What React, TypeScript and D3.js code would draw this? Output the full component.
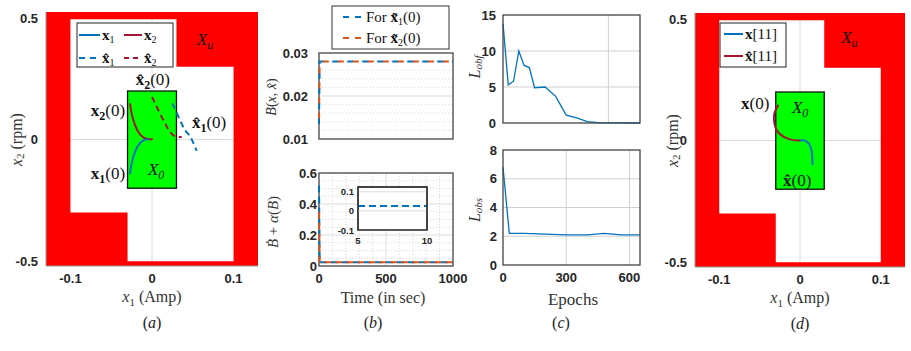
import React from "react";
import * as d3 from "d3";

const blue = "#0072BD";
const orange = "#D95319";
const wine = "#A2142F";
const serif = "'Liberation Serif', 'DejaVu Serif', serif";
const sans = "'Liberation Sans', Arial, sans-serif";
const tickCol = "#262626";

// ---------- (a) and (d): state space ----------
const stateDomainX = [-0.13, 0.13];
const stateDomainY = [-0.52, 0.525];
const stateTicksX = [-0.1, 0, 0.1];
const stateTicksY = [-0.5, 0, 0.5];
// boundary of the safe (white) region; the rest of the box is X_u
const safeSetX = [-0.1, 0.03, 0.03, 0.1, 0.1, -0.03, -0.03, -0.1];
const safeSetY = [0.495, 0.495, 0.3, 0.3, -0.5, -0.5, -0.3, -0.3];
// initial set X_0
const initSetX = [-0.03, 0.03];
const initSetY = [-0.2, 0.2];

// (a) trajectories
const x1X = [-0.027, -0.025, -0.0208, -0.0155, -0.0098, -0.0045];
const x1Y = [-0.142, -0.098, -0.05, -0.018, -0.002, 0.002];
const x2X = [-0.027, -0.025, -0.0208, -0.0155, -0.0106, -0.0045, 0.001];
const x2Y = [0.149, 0.108, 0.06, 0.025, 0.009, 0.002, 0.002];
const xh1X = [0.025, 0.0344, 0.0405, 0.0466, 0.0487, 0.0548];
const xh1Y = [0.149, 0.08, 0.039, 0.014, 0.001, -0.046];
const xh2X = [0.0, 0.0078, 0.016, 0.022, 0.028, 0.0364];
const xh2Y = [0.176, 0.121, 0.067, 0.032, 0.014, 0.011];

// (d) trajectories
const x11X = [0, 0.0061, 0.0114, 0.0143, 0.0155];
const x11Y = [0, 0, -0.014, -0.041, -0.1];
const xh11X = [-0.0266, -0.0319, -0.0319, -0.0286, -0.0205, -0.0102, 0];
const xh11Y = [0.148, 0.11, 0.075, 0.041, 0.016, 0.003, 0];

// ---------- (b): barrier values over time ----------
const timeTicks = [0, 500, 1000];
const barrierTicks = [0.01, 0.02, 0.03];
const condTicks = [0, 0.2, 0.4, 0.6];
const timeB = [0, 5, 1000];
const barrier1 = [0.0135, 0.028, 0.028];
const barrier2 = [0.0135, 0.028, 0.028];
const cond1 = [0.52, 0.025, 0.025];
const cond2 = [0.35, 0.025, 0.025];
const insetTime = [5, 10];
const insetCond = [0.025, 0.025];
const insetTicksX = [5, 10];
const insetTicksY = [-0.1, 0, 0.1];

// ---------- (c): training losses ----------
const epochTicks = [0, 300, 600];
const epochsObf = [0, 25, 50, 75, 100, 125, 150, 200, 250, 300, 350, 400, 450, 650];
const lossObf = [13.8, 5.3, 5.8, 10, 8, 7.7, 4.9, 5, 3.7, 1.1, 0.7, 0.2, 0.05, 0];
const obfTicks = [0, 5, 10, 15];
const epochsObs = [0, 30, 100, 200, 300, 400, 480, 560, 650];
const lossObs = [6.8, 2.2, 2.2, 2.15, 2.1, 2.1, 2.2, 2.1, 2.1];
const obsTicks = [0, 2, 4, 6, 8];

type Scale = d3.ScaleLinear<number, number>;

function Path({ x, y, X, Y, color, width = 2, dash, offset, curve = d3.curveCatmullRom }: any) {
  const gen = d3
    .line<number>()
    .x((_, i) => x(X[i]))
    .y((_, i) => y(Y[i]))
    .curve(curve);
  return (
    <path
      d={gen(X) ?? ""}
      fill="none"
      stroke={color}
      strokeWidth={width}
      strokeDasharray={dash}
      strokeDashoffset={offset}
    />
  );
}

function TickLabel({ x, y, anchor = "middle", size = 13, children }: any) {
  return (
    <text x={x} y={y} textAnchor={anchor} fontFamily={sans} fontWeight={700} fontSize={size} fill={tickCol}>
      {children}
    </text>
  );
}

function fmt(v: number) {
  return String(v);
}

function YLabel({ cx, cy, size = 16, children }: any) {
  return (
    <text
      transform={`translate(${cx},${cy}) rotate(-90)`}
      textAnchor="middle"
      dominantBaseline="central"
      fontFamily={serif}
      fontSize={size}
      fill="#333"
    >
      {children}
    </text>
  );
}

function StateFrame({ left, right, top, bottom, yLabelX, tag, children }: any) {
  const x = d3.scaleLinear().domain(stateDomainX).range([left, right]);
  const y = d3.scaleLinear().domain(stateDomainY).range([bottom, top]);
  const hole = safeSetX.map((v, i) => `${x(v)},${y(safeSetY[i])}`).join("L");
  const red = `M${left},${top}H${right}V${bottom}H${left}Z M${hole}Z`;
  return (
    <g>
      <rect x={left} y={top} width={right - left} height={bottom - top} fill="#fff" />
      <line x1={x(0)} x2={x(0)} y1={top} y2={bottom} stroke="#dcdcdc" />
      <line x1={left} x2={right} y1={y(0)} y2={y(0)} stroke="#dcdcdc" />
      <path d={red} fill="#ff0000" fillRule="evenodd" />
      <rect
        x={x(initSetX[0])}
        y={y(initSetY[1])}
        width={x(initSetX[1]) - x(initSetX[0])}
        height={y(initSetY[0]) - y(initSetY[1])}
        fill="#00ff00"
        stroke="#111"
        strokeWidth={1.3}
      />
      <line x1={left} x2={left} y1={top} y2={bottom} stroke="#999" />
      <line x1={left} x2={right} y1={bottom} y2={bottom} stroke="#999" />
      {stateTicksY.map((t) => (
        <TickLabel key={t} x={left - 8} y={y(t) + 4.5} anchor="end">
          {fmt(t)}
        </TickLabel>
      ))}
      {stateTicksX.map((t) => (
        <TickLabel key={t} x={x(t)} y={bottom + 17}>
          {fmt(t)}
        </TickLabel>
      ))}
      <YLabel cx={yLabelX} cy={y(0)}>
        <tspan fontStyle="italic">x</tspan>
        <tspan fontSize={11} dy={4}>2</tspan>
        <tspan dy={-4}> (rpm)</tspan>
      </YLabel>
      <text x={x(0)} y={bottom + 36} textAnchor="middle" fontFamily={serif} fontSize={16} fill="#333">
        <tspan fontStyle="italic">x</tspan>
        <tspan fontSize={11} dy={4}>1</tspan>
        <tspan dy={-4}> (Amp)</tspan>
      </text>
      <text x={x(0)} y={bottom + 62} textAnchor="middle" fontFamily={serif} fontSize={16} fill="#222">
        (<tspan fontStyle="italic">{tag}</tspan>)
      </text>
      {children(x, y)}
    </g>
  );
}

function BoldLabel({ x, y, base, sub, anchor = "start" }: any) {
  return (
    <text x={x} y={y} textAnchor={anchor} fontFamily={serif} fontSize={17} fill="#111">
      <tspan fontWeight={700}>{base}</tspan>
      {sub ? (
        <tspan fontWeight={700} fontSize={12} dy={4}>
          {sub}
        </tspan>
      ) : null}
      <tspan dy={sub ? -4 : 0}>(0)</tspan>
    </text>
  );
}

function SetLabel({ x, y, sub }: any) {
  return (
    <text x={x} y={y} fontFamily={serif} fontSize={17} fontStyle="italic" fill="#111">
      X
      <tspan fontSize={12} dy={4}>
        {sub}
      </tspan>
    </text>
  );
}

function PanelA() {
  return (
    <StateFrame left={46} right={258} top={12} bottom={266} yLabelX={16} tag="a">
      {(x: Scale, y: Scale) => (
        <g>
          <Path x={x} y={y} X={x2X} Y={x2Y} color={wine} />
          <Path x={x} y={y} X={x1X} Y={x1Y} color={blue} />
          <Path x={x} y={y} X={xh2X} Y={xh2Y} color={wine} dash="6 4" />
          <Path x={x} y={y} X={xh1X} Y={xh1Y} color={blue} dash="6 4" />
          <BoldLabel x={x(0.001)} y={y(0.224)} base={"x\u0302"} sub="2" anchor="middle" />
          <BoldLabel x={x(-0.033)} y={y(0.097)} base="x" sub="2" anchor="end" />
          <BoldLabel x={x(0.049)} y={y(0.047)} base={"x\u0302"} sub="1" />
          <BoldLabel x={x(-0.033)} y={y(-0.163)} base="x" sub="1" anchor="end" />
          <SetLabel x={x(-0.005)} y={y(-0.146)} sub="0" />
          <SetLabel x={x(0.055)} y={y(0.389)} sub="u" />
          <g>
            <rect x={77} y={23} width={96} height={44} fill="#fff" stroke="#222" strokeWidth={1} />
            <line x1={79} x2={100} y1={35} y2={35} stroke={blue} strokeWidth={2} />
            <line x1={124} x2={142} y1={35} y2={35} stroke={wine} strokeWidth={2} />
            <line x1={79} x2={100} y1={58} y2={58} stroke={blue} strokeWidth={2} strokeDasharray="6 5" />
            <line x1={124} x2={142} y1={58} y2={58} stroke={wine} strokeWidth={2} strokeDasharray="5 4" />
            <text x={102} y={40} fontFamily={serif} fontSize={15} fontWeight={700} fill="#111">
              x<tspan fontSize={10} dy={3} fontWeight={400}>1</tspan>
            </text>
            <text x={144} y={40} fontFamily={serif} fontSize={15} fontWeight={700} fill="#111">
              x<tspan fontSize={10} dy={3} fontWeight={400}>2</tspan>
            </text>
            <text x={102} y={63} fontFamily={serif} fontSize={15} fontWeight={700} fill="#111">
              {"x\u0302"}
              <tspan fontSize={10} dy={3} fontWeight={400}>1</tspan>
            </text>
            <text x={144} y={63} fontFamily={serif} fontSize={15} fontWeight={700} fill="#111">
              {"x\u0302"}
              <tspan fontSize={10} dy={3} fontWeight={400}>2</tspan>
            </text>
          </g>
        </g>
      )}
    </StateFrame>
  );
}

function PanelD() {
  return (
    <StateFrame left={695} right={905} top={13} bottom={267} yLabelX={672} tag="d">
      {(x: Scale, y: Scale) => (
        <g>
          <Path x={x} y={y} X={xh11X} Y={xh11Y} color={wine} />
          <Path x={x} y={y} X={x11X} Y={x11Y} color={blue} />
          <BoldLabel x={x(-0.038)} y={y(0.128)} base="x" anchor="end" />
          <SetLabel x={x(-0.01)} y={y(0.115)} sub="0" />
          <BoldLabel x={x(-0.021)} y={y(-0.185)} base={"x\u0302"} />
          <SetLabel x={x(0.051)} y={y(0.4)} sub="u" />
          <g>
            <rect x={720} y={23} width={66} height={44} fill="#fff" stroke="#222" strokeWidth={1} />
            <line x1={724} x2={743} y1={34} y2={34} stroke={blue} strokeWidth={2} />
            <line x1={724} x2={743} y1={56} y2={56} stroke={wine} strokeWidth={2} />
            <text x={745} y={39} fontFamily={serif} fontSize={15} fill="#111">
              <tspan fontWeight={700}>x</tspan>[11]
            </text>
            <text x={745} y={61} fontFamily={serif} fontSize={15} fill="#111">
              <tspan fontWeight={700}>{"x\u0302"}</tspan>[11]
            </text>
          </g>
        </g>
      )}
    </StateFrame>
  );
}

function Box({ left, right, top, bottom }: any) {
  return <rect x={left} y={top} width={right - left} height={bottom - top} fill="none" stroke="#444" strokeWidth={1.3} />;
}

function PanelB() {
  const L = 319,
    R = 453;
  const x = d3.scaleLinear().domain([0, 1000]).range([L, R]);
  const yT = d3.scaleLinear().domain([0.01, 0.03]).range([139, 53]);
  const yB = d3.scaleLinear().domain([0, 0.6]).range([266, 173]);
  const xi = d3.scaleLinear().domain([5, 10]).range([358, 427]);
  const yi = d3.scaleLinear().domain([-0.1, 0.125]).range([230, 187]);
  const minorT = d3.range(0.012, 0.03, 0.002).filter((v) => Math.abs(v - 0.02) > 1e-6);
  const minorB = d3.range(0.05, 0.6, 0.05).filter((v) => Math.abs(v * 5 - Math.round(v * 5)) > 1e-6);
  const minorBx = d3.range(100, 1000, 100).filter((v) => v !== 500);
  return (
    <g>
      {/* top: B(x, x̂) */}
      <rect x={L} y={53} width={R - L} height={86} fill="#fff" />
      {minorT.map((v) => (
        <line key={v} x1={L} x2={R} y1={yT(v)} y2={yT(v)} stroke="#d8d8d8" strokeDasharray="1 2" />
      ))}
      <line x1={L} x2={R} y1={yT(0.02)} y2={yT(0.02)} stroke="#dcdcdc" />
      <Box left={L} right={R} top={53} bottom={139} />
      <Path x={x} y={yT} X={timeB} Y={barrier1} color={blue} dash="6 9" curve={d3.curveLinear} />
      <Path x={x} y={yT} X={timeB} Y={barrier2} color={orange} dash="6 9" offset={-5.5} curve={d3.curveLinear} />
      {barrierTicks.map((t) => (
        <TickLabel key={t} x={L - 11} y={yT(t) + 4.5} anchor="end">
          {fmt(t)}
        </TickLabel>
      ))}
      <YLabel cx={271} cy={97} size={14}>
        <tspan fontStyle="italic">B</tspan>(<tspan fontStyle="italic">x</tspan>,{" "}
        <tspan fontStyle="italic">{"x\u0302"}</tspan>)
      </YLabel>
      {/* legend */}
      <rect x={332} y={6} width={117} height={43} fill="#fff" stroke="#333" strokeWidth={1} />
      <line x1={343} x2={363} y1={17} y2={17} stroke={blue} strokeWidth={2} strokeDasharray="6 6" />
      <line x1={343} x2={363} y1={38} y2={38} stroke={orange} strokeWidth={2} strokeDasharray="6 6" />
      <text x={366} y={22} fontFamily={serif} fontSize={15} fill="#111">
        For <tspan fontWeight={700}>{"x\u0303"}</tspan>
        <tspan fontSize={10} dy={3}>1</tspan>
        <tspan dy={-3}>(0)</tspan>
      </text>
      <text x={366} y={43} fontFamily={serif} fontSize={15} fill="#111">
        For <tspan fontWeight={700}>{"x\u0303"}</tspan>
        <tspan fontSize={10} dy={3}>2</tspan>
        <tspan dy={-3}>(0)</tspan>
      </text>

      {/* bottom: Bdot + alpha(B) */}
      <rect x={L} y={173} width={R - L} height={93} fill="#fff" />
      {minorB.map((v) => (
        <line key={v} x1={L} x2={R} y1={yB(v)} y2={yB(v)} stroke="#d8d8d8" strokeDasharray="1 2" />
      ))}
      {minorBx.map((v) => (
        <line key={v} x1={x(v)} x2={x(v)} y1={173} y2={266} stroke="#d8d8d8" strokeDasharray="1 2" />
      ))}
      {[0.2, 0.4].map((v) => (
        <line key={v} x1={L} x2={R} y1={yB(v)} y2={yB(v)} stroke="#dcdcdc" />
      ))}
      <line x1={x(500)} x2={x(500)} y1={173} y2={266} stroke="#dcdcdc" />
      <Box left={L} right={R} top={173} bottom={266} />
      <Path x={x} y={yB} X={timeB} Y={cond1} color={blue} dash="7 4" curve={d3.curveLinear} />
      <Path x={x} y={yB} X={timeB} Y={cond2} color={orange} dash="7 4" curve={d3.curveLinear} />
      {condTicks.map((t) => (
        <TickLabel key={t} x={L - 2} y={yB(t) + 4.5} anchor="end">
          {fmt(t)}
        </TickLabel>
      ))}
      {timeTicks.map((t) => (
        <TickLabel key={t} x={x(t)} y={283}>
          {t}
        </TickLabel>
      ))}
      {/* inset */}
      <rect x={358} y={187} width={69} height={43} fill="#fff" stroke="#222" strokeWidth={1.2} />
      {insetTicksY.map((t) => (
        <line key={t} x1={358} x2={427} y1={yi(t)} y2={yi(t)} stroke="#dcdcdc" />
      ))}
      <Path x={xi} y={yi} X={insetTime} Y={insetCond} color={blue} dash="7 4" curve={d3.curveLinear} />
      <rect x={358} y={187} width={69} height={43} fill="none" stroke="#222" strokeWidth={1.2} />
      {insetTicksY.map((t) => (
        <TickLabel key={t} x={354} y={yi(t) + 3.5} anchor="end" size={9.5}>
          {fmt(t)}
        </TickLabel>
      ))}
      {insetTicksX.map((t) => (
        <TickLabel key={t} x={xi(t)} y={244} size={9.5}>
          {t}
        </TickLabel>
      ))}
      <YLabel cx={273} cy={222} size={15}>
        <tspan fontStyle="italic">{"\u1E02"}</tspan> + <tspan fontStyle="italic">α</tspan>(
        <tspan fontStyle="italic">B</tspan>)
      </YLabel>
      <text x={383} y={303} textAnchor="middle" fontFamily={serif} fontSize={16} fill="#333">
        Time (in sec)
      </text>
      <text x={373} y={328} textAnchor="middle" fontFamily={serif} fontSize={16} fill="#222">
        (<tspan fontStyle="italic">b</tspan>)
      </text>
    </g>
  );
}

function PanelC() {
  const L = 503,
    R = 640;
  const x = d3.scaleLinear().domain([0, 650]).range([L, R]);
  const yT = d3.scaleLinear().domain([0, 15]).range([123, 15]);
  const yB = d3.scaleLinear().domain([0, 8]).range([265, 150]);
  return (
    <g>
      <rect x={L} y={15} width={R - L} height={108} fill="#fff" />
      {[5, 10].map((v) => (
        <line key={v} x1={L} x2={R} y1={yT(v)} y2={yT(v)} stroke="#cfcfcf" />
      ))}
      <line x1={x(500)} x2={x(500)} y1={15} y2={123} stroke="#cfcfcf" />
      <Path x={x} y={yT} X={epochsObf} Y={lossObf} color={blue} width={1.3} curve={d3.curveLinear} />
      <Box left={L} right={R} top={15} bottom={123} />
      {obfTicks.map((t) => (
        <TickLabel key={t} x={L - 7} y={yT(t) + 4.5} anchor="end">
          {t}
        </TickLabel>
      ))}
      <YLabel cx={474} cy={67} size={16}>
        <tspan fontStyle="italic">L</tspan>
        <tspan fontStyle="italic" fontSize={11} dy={4}>
          obf
        </tspan>
      </YLabel>

      <rect x={L} y={150} width={R - L} height={115} fill="#fff" />
      {[2, 4, 6].map((v) => (
        <line key={v} x1={L} x2={R} y1={yB(v)} y2={yB(v)} stroke="#cfcfcf" />
      ))}
      {[300, 600].map((v) => (
        <line key={v} x1={x(v)} x2={x(v)} y1={150} y2={265} stroke="#cfcfcf" />
      ))}
      <Path x={x} y={yB} X={epochsObs} Y={lossObs} color={blue} width={1.3} curve={d3.curveLinear} />
      <Box left={L} right={R} top={150} bottom={265} />
      {obsTicks.map((t) => (
        <TickLabel key={t} x={L - 6} y={yB(t) + 4.5} anchor="end">
          {t}
        </TickLabel>
      ))}
      {epochTicks.map((t) => (
        <TickLabel key={t} x={x(t)} y={282}>
          {t}
        </TickLabel>
      ))}
      <YLabel cx={474} cy={210} size={16}>
        <tspan fontStyle="italic">L</tspan>
        <tspan fontStyle="italic" fontSize={11} dy={4}>
          obs
        </tspan>
      </YLabel>
      <text x={573} y={305} textAnchor="middle" fontFamily={serif} fontSize={17} fill="#333">
        Epochs
      </text>
      <text x={561} y={328} textAnchor="middle" fontFamily={serif} fontSize={16} fill="#222">
        (<tspan fontStyle="italic">c</tspan>)
      </text>
    </g>
  );
}

export default function App() {
  return (
    <svg
      width={911}
      height={351}
      viewBox="0 0 911 351"
      style={{ position: "absolute", left: 0, top: 0, background: "#fff" }}
    >
      <PanelA />
      <PanelB />
      <PanelC />
      <PanelD />
    </svg>
  );
}
